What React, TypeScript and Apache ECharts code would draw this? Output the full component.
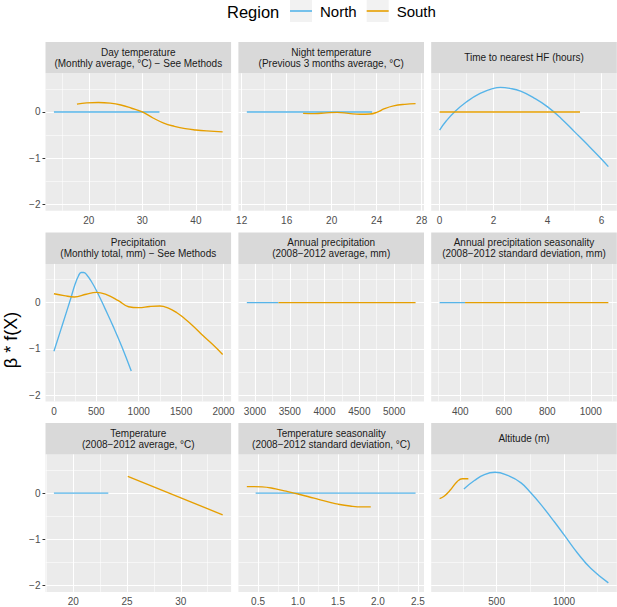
import React, { useEffect, useRef } from "react";
import * as echarts from "echarts";

const FONT = "'Liberation Sans', Arial, Helvetica, sans-serif";

const regions = ["North", "South"];
const regionColors = ["#56B4E9", "#E69F00"];

const panelTitles = [
  "Day temperature\n(Monthly average, °C) − See Methods",
  "Night temperature\n(Previous 3 months average, °C)",
  "Time to nearest HF (hours)",
  "Precipitation\n(Monthly total, mm) − See Methods",
  "Annual precipitation\n(2008−2012 average, mm)",
  "Annual precipitation seasonality\n(2008−2012 standard deviation, mm)",
  "Temperature\n(2008−2012 average, °C)",
  "Temperature seasonality\n(2008−2012 standard deviation, °C)",
  "Altitude (m)",
];

const xMajorTicks = [
  [20, 30, 40],
  [12, 16, 20, 24, 28],
  [0, 2, 4, 6],
  [0, 500, 1000, 1500, 2000],
  [3000, 3500, 4000, 4500, 5000],
  [400, 600, 800, 1000],
  [20, 25, 30],
  [0.5, 1.0, 1.5, 2.0, 2.5],
  [500, 1000],
];
const xMinorTicks = [
  [15, 25, 35, 45],
  [14, 18, 22, 26],
  [1, 3, 5],
  [250, 750, 1250, 1750],
  [3250, 3750, 4250, 4750, 5250],
  [300, 500, 700, 900, 1100],
  [17.5, 22.5, 27.5, 32.5],
  [0.75, 1.25, 1.75, 2.25],
  [250, 750, 1250],
];
const xLabelDecimals = [0, 0, 0, 0, 0, 0, 0, 1, 0];

const yMajorTicks = [-2, -1, 0];
const yMinorTicks = [-1.5, -0.5, 0.5];
const yLimits = [-2.135, 0.835];

// Day temperature
const dayTempNorth = [[13.5, 0], [33.2, 0]];
const dayTempSouth = [
  [17.8, 0.17], [19.6, 0.195], [21.8, 0.205], [24, 0.19], [26, 0.15], [28, 0.08],
  [30, 0.0], [32, -0.13], [34, -0.24], [36, -0.31], [38, -0.36], [40, -0.39],
  [42, -0.41], [45, -0.43],
];
// Night temperature
const nightTempNorth = [[12.46, 0], [23.6, 0]];
const nightTempSouth = [
  [17.46, -0.03], [18.5, -0.035], [19.5, -0.02], [20.5, -0.01], [21.5, -0.03],
  [22.5, -0.05], [23.4, -0.045], [24, -0.01], [24.7, 0.07], [25.5, 0.13],
  [26.5, 0.165], [27.46, 0.18],
];
// Time to nearest HF
const timeHFNorth = [
  [0, -0.39], [0.25, -0.19], [0.55, 0], [1, 0.22], [1.5, 0.4], [2, 0.51],
  [2.25, 0.53], [2.6, 0.51], [3, 0.45], [3.5, 0.3], [4, 0.11], [4.5, -0.14],
  [5, -0.43], [5.5, -0.72], [6, -1.02], [6.25, -1.18],
];
const timeHFSouth = [[0, 0], [5.2, 0]];
// Precipitation
const precipNorth = [
  [0, -1.05], [100, -0.48], [200, 0.1], [250, 0.4], [290, 0.58], [320, 0.65],
  [350, 0.65], [390, 0.59], [440, 0.46], [504, 0.25], [600, -0.12], [700, -0.52],
  [800, -0.95], [912, -1.48],
];
const precipSouth = [
  [0, 0.19], [120, 0.15], [240, 0.12], [380, 0.18], [500, 0.22], [620, 0.17],
  [760, 0.04], [880, -0.09], [1000, -0.11], [1130, -0.085], [1250, -0.075],
  [1350, -0.12], [1450, -0.22], [1550, -0.36], [1650, -0.52], [1750, -0.7],
  [1870, -0.9], [1990, -1.12],
];
// Annual precipitation
const annualPrecipNorth = [[2883, 0], [3338, 0]];
const annualPrecipSouth = [[3338, 0], [5308, 0]];
// Annual precipitation seasonality
const precipSeasonNorth = [[305, 0], [422, 0]];
const precipSeasonSouth = [[422, 0], [1081, 0]];
// Temperature
const temperatureNorth = [[18.2, 0], [23.26, 0]];
const temperatureSouth = [[25.07, 0.36], [33.9, -0.47]];
// Temperature seasonality
const tempSeasonNorth = [[0.47, 0], [2.47, 0]];
const tempSeasonSouth = [
  [0.36, 0.14], [0.55, 0.135], [0.72, 0.09], [0.85, 0.04], [1.0, -0.02],
  [1.2, -0.11], [1.4, -0.2], [1.5, -0.24], [1.65, -0.28], [1.8, -0.3], [1.91, -0.3],
];
// Altitude
const altitudeNorth = [
  [257, 0.09], [335, 0.27], [409, 0.4], [488, 0.45], [582, 0.38], [681, 0.22],
  [755, 0.0], [829, -0.25], [928, -0.62], [1002, -0.91], [1101, -1.3],
  [1200, -1.63], [1329, -1.94],
];
const altitudeSouth = [
  [77, -0.12], [110, -0.07], [158, 0.07], [208, 0.25], [245, 0.31], [290, 0.31],
];

const northData = [
  dayTempNorth, nightTempNorth, timeHFNorth,
  precipNorth, annualPrecipNorth, precipSeasonNorth,
  temperatureNorth, tempSeasonNorth, altitudeNorth,
];
const southData = [
  dayTempSouth, nightTempSouth, timeHFSouth,
  precipSouth, annualPrecipSouth, precipSeasonSouth,
  temperatureSouth, tempSeasonSouth, altitudeSouth,
];

// layout
const COL_LEFT = [45.5, 238.4, 431.2];
const COL_W = 185.6;
const ROW_TOP = [42, 232.6, 423.1];
const STRIP_H = 31.3;
const PLOT_H = 137.5;

function buildOption() {
  const grids: any[] = [];
  const xAxes: any[] = [];
  const yAxes: any[] = [];
  const series: any[] = [];
  const graphics: any[] = [];

  for (let i = 0; i < 9; i++) {
    const r = Math.floor(i / 3);
    const c = i % 3;
    const left = COL_LEFT[c];
    const stripTop = ROW_TOP[r];
    const top = stripTop + STRIP_H;

    grids.push({
      left, top, width: COL_W, height: PLOT_H,
      show: true, backgroundColor: "#EBEBEB", borderWidth: 0,
      containLabel: false,
    });

    const allX = [...northData[i], ...southData[i]].map((p) => p[0]);
    const lo = Math.min(...allX);
    const hi = Math.max(...allX);
    const pad = (hi - lo) * 0.05;
    const dec = xLabelDecimals[i];

    xAxes.push({
      type: "value", gridIndex: i, min: lo - pad, max: hi + pad,
      axisLine: { show: false },
      axisTick: {
        show: true, customValues: xMajorTicks[i], length: 3, inside: false,
        lineStyle: { color: "#333333", width: 1 },
      },
      axisLabel: {
        show: true, customValues: xMajorTicks[i], color: "#4D4D4D",
        fontSize: 10, fontFamily: FONT, margin: 5,
        formatter: (v: number) => (dec ? v.toFixed(dec) : String(v)),
      },
      splitLine: { show: false },
      minorSplitLine: { show: false },
    });

    yAxes.push({
      type: "value", gridIndex: i, min: yLimits[0], max: yLimits[1],
      axisLine: { show: false },
      axisTick: {
        show: c === 0, customValues: yMajorTicks, length: 3,
        lineStyle: { color: "#333333", width: 1 },
      },
      axisLabel: {
        show: c === 0, customValues: yMajorTicks, color: "#4D4D4D",
        fontSize: 10, fontFamily: FONT, margin: 5,
        formatter: (v: number) => String(v).replace("-", "\u2212"),
      },
      splitLine: { show: false },
    });

    const gridLines: any[] = [];
    xMajorTicks[i].forEach((v) => gridLines.push({ xAxis: v, lineStyle: { width: 1.1 } }));
    xMinorTicks[i].forEach((v) => gridLines.push({ xAxis: v, lineStyle: { width: 0.55 } }));
    yMajorTicks.forEach((v) => gridLines.push({ yAxis: v, lineStyle: { width: 1.1 } }));
    yMinorTicks.forEach((v) => gridLines.push({ yAxis: v, lineStyle: { width: 0.55 } }));

    series.push({
      type: "line", name: "_grid", xAxisIndex: i, yAxisIndex: i, data: [],
      silent: true, z: 1,
      markLine: {
        silent: true, z: 1, symbol: ["none", "none"], animation: false,
        label: { show: false },
        emphasis: { disabled: true },
        lineStyle: { color: "#FFFFFF", type: "solid", width: 1 },
        data: gridLines,
      },
    });

    [northData[i], southData[i]].forEach((d, k) => {
      series.push({
        type: "line", name: regions[k], xAxisIndex: i, yAxisIndex: i,
        data: d, showSymbol: false, symbol: "none", smooth: 0.45, z: 3,
        lineStyle: { color: regionColors[k], width: 1.35 },
        itemStyle: { color: regionColors[k] },
        emphasis: { disabled: true },
      });
    });

    graphics.push({
      type: "rect", silent: true,
      shape: { x: left, y: stripTop, width: COL_W, height: STRIP_H },
      style: { fill: "#D9D9D9" },
    });
    graphics.push({
      type: "text", silent: true,
      x: left + COL_W / 2, y: stripTop + STRIP_H / 2,
      style: {
        text: panelTitles[i], fill: "#1A1A1A", fontSize: 10, fontFamily: FONT,
        align: "center", verticalAlign: "middle", lineHeight: 11,
      },
    });
  }

  // legend key backgrounds
  [290, 366.7].forEach((x) => {
    graphics.push({
      type: "rect", silent: true, z: 0,
      shape: { x, y: 0, width: 22, height: 22 },
      style: { fill: "#F2F2F2" },
    });
  });
  graphics.push({
    type: "text", silent: true, x: 227, y: 12,
    style: {
      text: "Region", fill: "#000000", fontSize: 16.5, fontFamily: FONT,
      align: "left", verticalAlign: "middle",
    },
  });
  graphics.push({
    type: "text", silent: true, x: 11, y: 340, rotation: Math.PI / 2,
    style: {
      text: "β * f(X)", fill: "#000000", fontSize: 18, fontFamily: FONT,
      align: "center", verticalAlign: "middle",
    },
  });

  return {
    animation: false,
    backgroundColor: "#FFFFFF",
    textStyle: { fontFamily: FONT },
    legend: {
      data: regions, left: 290, top: 3, padding: 0, icon: "rect", z: 5,
      itemWidth: 22, itemHeight: 1.6, itemGap: 10, selectedMode: false,
      textStyle: {
        fontSize: 15, color: "#000000", fontFamily: FONT,
        padding: [0, 0, 0, 3], lineHeight: 16,
      },
    },
    grid: grids,
    xAxis: xAxes,
    yAxis: yAxes,
    series,
    graphic: graphics,
  };
}

export default function App() {
  const ref = useRef<HTMLDivElement>(null);
  useEffect(() => {
    document.body.style.margin = "0";
    if (!ref.current) return;
    const chart = echarts.init(ref.current, undefined, { renderer: "svg" });
    chart.setOption(buildOption() as any);
    return () => chart.dispose();
  }, []);
  return <div ref={ref} style={{ width: 617, height: 607 }} />;
}
